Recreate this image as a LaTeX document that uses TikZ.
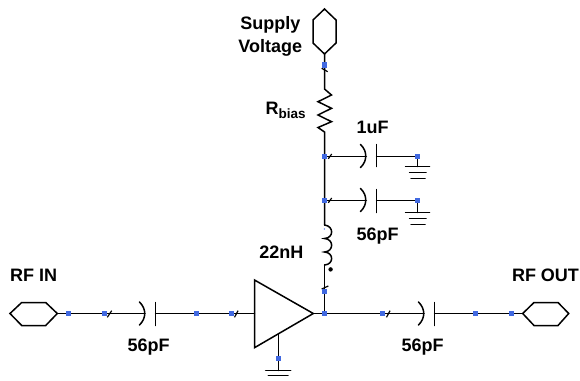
\documentclass[tikz,border=0pt]{standalone}
\usepackage{fontspec}
\setmainfont{Liberation Sans}
\usetikzlibrary{backgrounds}
\definecolor{pincol}{RGB}{65,105,225}
\tikzset{
  wire/.style={line width=1.5pt,line join=miter,line cap=round},
  tickmark/.style={line width=1.2pt},
  lbl/.style={font=\bfseries\fontsize{18}{23}\selectfont,inner sep=0pt,align=center,text=black,anchor=base},
  pin/.style={fill=pincol,draw=none,minimum size=5.3pt,inner sep=0pt,rectangle,outer sep=0pt},
}
\begin{document}
\begin{tikzpicture}[x=1pt,y=-1pt]
\useasboundingbox (0,0) rectangle (580,380);
% pins
\node[pin] (pS) at (324.5,65) {};
\node[pin] (pA) at (324.5,156.5) {};
\node[pin] (pB) at (324.5,200.5) {};
\node[pin] (pAr) at (417.5,156.5) {};
\node[pin] (pBr) at (417.5,200.5) {};
\node[pin] (pL) at (324.5,291.5) {};
\node[pin] (pO) at (324.5,313.5) {};
\node[pin] (pG) at (278.5,358.5) {};
\node[pin] (p1) at (68.5,313.5) {};
\node[pin] (p2) at (104.5,313.5) {};
\node[pin] (p3) at (196.5,313.5) {};
\node[pin] (p4) at (231.5,313.5) {};
\node[pin] (p5) at (382.5,313.5) {};
\node[pin] (p6) at (475.5,313.5) {};
\node[pin] (p7) at (511.5,313.5) {};
% named junctions
\coordinate (hexS) at (324.5,54);
\coordinate (hexI) at (57.3,313.5);
\coordinate (hexO) at (522.7,313.5);
\coordinate (ampIn) at (254.5,313.5);
\coordinate (ampOut) at (313.3,313.5);
\coordinate (ampG) at (278.5,334);
\coordinate (resT) at (324.5,89);
\coordinate (resB) at (324.5,132);
\coordinate (indT) at (324.5,225);
\coordinate (indB) at (324.5,265);
\coordinate (gndM) at (278.5,370.5);
\coordinate (gndA) at (417.5,166.5);
\coordinate (gndB) at (417.5,212.5);
\coordinate (capIa) at (145,313.5);
\coordinate (capIb) at (155.5,313.5);
\coordinate (capOa) at (424,313.5);
\coordinate (capOb) at (434.5,313.5);
\coordinate (capAa) at (366.3,156.5);
\coordinate (capAb) at (376.5,156.5);
\coordinate (capBa) at (366.3,200.5);
\coordinate (capBb) at (376.5,200.5);
\begin{scope}[on background layer]
% ports
\draw[wire] (10,313.5) -- (21.7,302.5) -- (45.7,302.5) -- (hexI) -- (45.7,325.5) -- (21.7,325.5) -- cycle;
\draw[wire] (hexO) -- (534,302.5) -- (558,302.5) -- (568.7,313.5) -- (558,325.5) -- (534,325.5) -- cycle;
\draw[wire] (hexS) -- (313,43) -- (313,20) -- (324.5,9) -- (336,20) -- (336,43) -- cycle;
% amplifier
\draw[wire] (254.5,280) -- (ampOut) -- (254.5,347.7) -- cycle;
% horizontal run, input
\draw[wire] (hexI) -- (p1.center) -- (p2.center) -- (capIa);
\draw[wire] (139.5,302) .. controls (146.5,309) and (146.5,318) .. (139.5,325);
\draw[wire] (155.5,302.5) -- (155.5,325.5);
\draw[wire] (capIb) -- (p3.center) -- (p4.center) -- (ampIn);
% horizontal run, output
\draw[wire] (ampOut) -- (pO.center) -- (p5.center) -- (capOa);
\draw[wire] (418.5,302) .. controls (425.5,309) and (425.5,318) .. (418.5,325);
\draw[wire] (434.5,302.5) -- (434.5,325.5);
\draw[wire] (capOb) -- (p6.center) -- (p7.center) -- (hexO);
% main vertical
\draw[wire] (hexS) -- (pS.center) -- (resT)
  -- (331.5,95) -- (318,101.7) -- (331.5,108.3) -- (318,115) -- (331.5,121.7) -- (318,127.5) -- (resB)
  -- (pA.center) -- (pB.center) -- (indT);
\draw[wire] (indT) .. controls (334,226) and (334,238) .. (324.5,238.5)
  .. controls (334,239) and (334,251.5) .. (324.5,252)
  .. controls (334,252.5) and (334,264.5) .. (indB);
\draw[wire] (indB) -- (pL.center) -- (pO.center);
% branch 1uF
\draw[wire] (pA.center) -- (capAa);
\draw[wire] (360.5,144.5) .. controls (367.5,151) and (367.5,161) .. (360.5,167.5);
\draw[wire] (376.5,144.5) -- (376.5,166.5);
\draw[wire] (capAb) -- (pAr.center) -- (gndA);
\draw[wire] (405.5,166.5) -- (429.5,166.5);
\draw[wire] (409.5,172.5) -- (426,172.5);
\draw[wire] (411,178.5) -- (425,178.5);
% branch 56pF
\draw[wire] (pB.center) -- (capBa);
\draw[wire] (360.5,188.5) .. controls (367.5,195) and (367.5,205) .. (360.5,211.5);
\draw[wire] (376.5,189.5) -- (376.5,212.5);
\draw[wire] (capBb) -- (pBr.center) -- (gndB);
\draw[wire] (405.5,212.5) -- (429.5,212.5);
\draw[wire] (409.5,218.5) -- (426,218.5);
\draw[wire] (411,224.5) -- (425,224.5);
% ground
\draw[wire] (ampG) -- (pG.center) -- (gndM);
\draw[wire] (265.7,370.5) -- (290.7,370.5);
\draw[wire] (268.3,375.5) -- (288,375.5);
% ticks
\draw[tickmark] (321.7,68.3) -- (327.7,71.7);
\draw[tickmark] (107.3,317.3) -- (111.7,310.7);
\draw[tickmark] (234.5,317.3) -- (238,310.7);
\draw[tickmark] (386.5,317.3) -- (390,310.7);
\draw[tickmark] (328.3,158.8) -- (331.7,154);
\draw[tickmark] (328.3,202.8) -- (331.7,198);
\draw[tickmark] (321.7,289) -- (328.3,286);
\end{scope}
\fill (330.6,269.4) circle (2.2pt);
\fill[pincol] (324.3,229) circle (0.7pt);
% labels
\node[lbl] (tS) at (270.3,52.3) {Supply\\Voltage};
\node[lbl,anchor=base west] (tR) at (265.4,114.3) {R\raisebox{-4pt}{\fontsize{13.5}{14}\selectfont bias}};
\node[lbl] (t1) at (372.5,133) {1uF};
\node[lbl] (t2) at (377.5,240) {56pF};
\node[lbl] (t3) at (281.3,258.5) {22nH};
\node[lbl] (t4) at (33.7,281.7) {RF IN};
\node[lbl] (t5) at (148.7,351.7) {56pF};
\node[lbl] (t6) at (422.5,351.7) {56pF};
\node[lbl] (t7) at (545.5,281.7) {RF OUT};
\end{tikzpicture}
\end{document}
